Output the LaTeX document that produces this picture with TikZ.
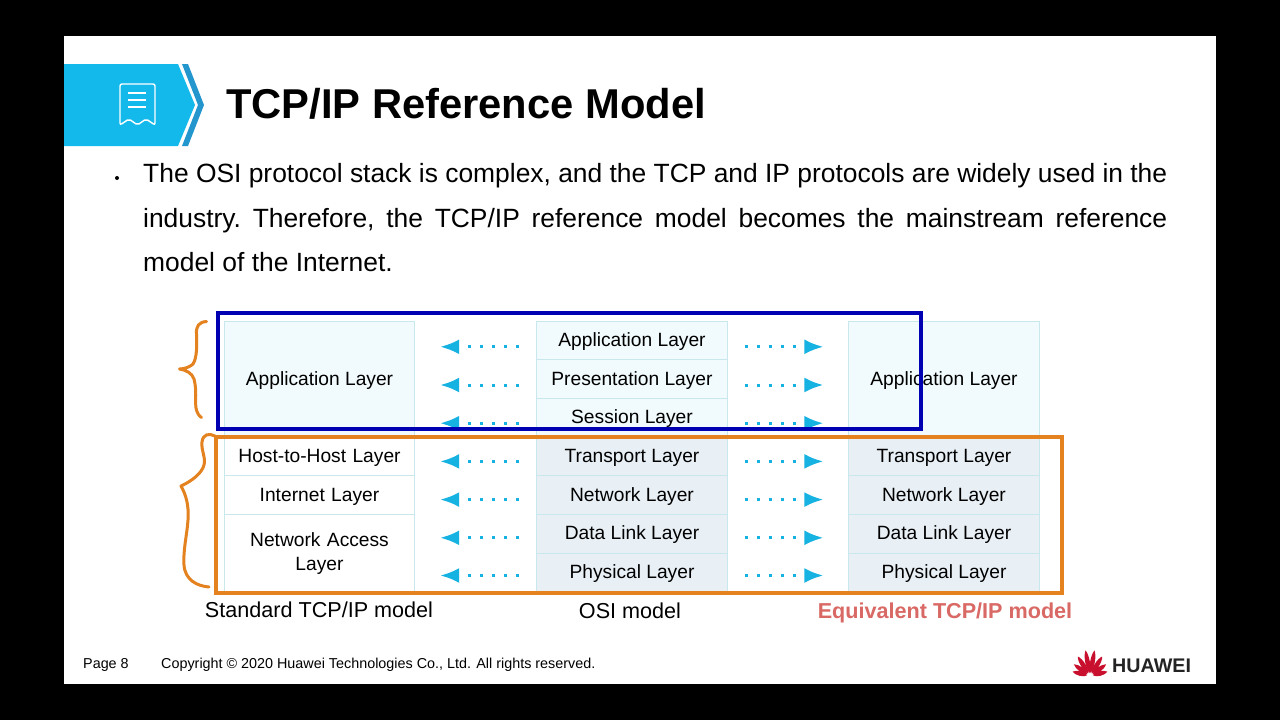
\documentclass[tikz,border=0pt]{standalone}
\usepackage{xcolor}
\usepackage{fontspec}
\setmainfont{Liberation Sans}
\usepackage{tikz}
\usetikzlibrary{arrows.meta,positioning,calc}
\definecolor{bannerblue}{RGB}{20,185,235}
\definecolor{chevblue}{RGB}{35,150,205}
\definecolor{cellline}{RGB}{200,232,238}
\definecolor{celltop}{RGB}{241,250,252}
\definecolor{cellgrey}{RGB}{232,240,246}
\definecolor{arrowblue}{RGB}{22,178,226}
\definecolor{markblue}{RGB}{0,0,178}
\definecolor{markorange}{RGB}{227,130,30}
\definecolor{eqred}{RGB}{217,105,100}
\definecolor{logored}{RGB}{200,16,46}
\newcommand{\fsize}[2]{\fontsize{#1}{#2}\selectfont}

\begin{document}
\begin{tikzpicture}[x=1pt, y=-1pt, node distance=38.7pt,
        cell/.style={rectangle, draw=cellline, line width=0.8pt, inner sep=0pt, text centered, minimum width=190.5pt, minimum height=38.7pt, text height=17pt, text depth=5pt, font=\fsize{19.2}{23.5}},
        topcell/.style={cell, fill=celltop},
        lowcell/.style={cell, fill=cellgrey},
        plaincell/.style={cell, fill=white, text width=170pt},
        capt/.style={inner sep=0pt, font=\fsize{21.6}{26}},
        larrow/.style={-{Latex[length=19pt,width=15pt]}, arrowblue, line width=3pt, dash pattern=on 3pt off 9pt, shorten <=17pt, shorten >=25pt},
        markbox/.style={line width=4.5pt},
        scribble/.style={markorange, line width=3pt, line cap=round, line join=round}
    ]
        % slide
        \fill[black] (0,0) rectangle (1280,720);
        \fill[white] (64,36) rectangle (1216,684);
        \useasboundingbox (0,0) rectangle (1280,720);

        % title banner
        \fill[bannerblue] (64,64) -- (178,64) -- (195,105) -- (178,146) -- (64,146) -- cycle;
        \fill[chevblue] (182,64) -- (188,64) -- (204,105) -- (188,146) -- (182,146) -- (198,105) -- cycle;
        \draw[white, line width=1.4pt, rounded corners=2pt] (120,125) -- (120,84) -- (155,84) -- (155,125) -- (146,119) -- (137.5,125) -- (129,119) -- cycle;
        \draw[white, line width=1.4pt] (128,93) -- (146,93);
        \draw[white, line width=1.4pt] (128,100) -- (146,100);
        \draw[white, line width=1.4pt] (128,107) -- (146,107);
        \node[anchor=base west, inner sep=0pt, font=\bfseries\fsize{41.7}{48}] (title) at (226,118) {TCP/IP Reference Model};

        % bullet text
        \fill[black] (117,178) circle (2pt);
        \node[anchor=north west, inner sep=0pt, text width=1024pt, align=justify, font=\fsize{26.4}{44.5}] (body) at (143,163.3) {\frenchspacing\spaceskip=.278em plus .6em minus .16em The OSI protocol stack is complex, and the TCP and IP protocols are widely used in the\linebreak industry. Therefore, the TCP/IP reference model becomes the mainstream reference model of the Internet.};

        % OSI column
        \node[topcell] (app) at (632,340.3) {Application Layer};
        \node[topcell, below of=app] (pres) {Presentation Layer};
        \node[topcell, below of=pres] (sess) {Session Layer};
        \node[lowcell, below of=sess] (trans) {Transport Layer};
        \node[lowcell, below of=trans] (net) {Network Layer};
        \node[lowcell, below of=net] (link) {Data Link Layer};
        \node[lowcell, below of=link] (phys) {Physical Layer};

        % standard column
        \node[topcell, minimum height=116pt] (stdapp) at (319.5,379) {Application Layer};
        \node[plaincell] (stdhost) at (319.5,456.4) {Host-to-Host Layer};
        \node[plaincell, below of=stdhost] (stdinet) {Internet Layer};
        \node[plaincell, minimum height=77.4pt, text height=, text depth=] (stdacc) at (319.5,553.4) {Network Access\\Layer};

        % equivalent column
        \node[topcell, minimum height=116pt] (eqapp) at (944,379) {Application Layer};
        \node[lowcell] (eqtrans) at (944,456.4) {Transport Layer};
        \node[lowcell, below of=eqtrans] (eqnet) {Network Layer};
        \node[lowcell, below of=eqnet] (eqlink) {Data Link Layer};
        \node[lowcell, below of=eqlink] (eqphys) {Physical Layer};

        % arrows to the left
        \draw[larrow] ([yshift=-6.5pt]app.west) -- ([yshift=-6.5pt]app.west -| stdapp.east);
        \draw[larrow] ([yshift=-6pt]pres.west) -- ([yshift=-6pt]pres.west -| stdapp.east);
        \draw[larrow] ([yshift=-5.5pt]sess.west) -- ([yshift=-5.5pt]sess.west -| stdapp.east);
        \draw[larrow] ([yshift=-5pt]trans.west) -- ([yshift=-5pt]trans.west -| stdapp.east);
        \draw[larrow] ([yshift=-4.5pt]net.west) -- ([yshift=-4.5pt]net.west -| stdapp.east);
        \draw[larrow] ([yshift=-4pt]link.west) -- ([yshift=-4pt]link.west -| stdapp.east);
        \draw[larrow] ([yshift=-3pt]phys.west) -- ([yshift=-3pt]phys.west -| stdapp.east);

        % arrows to the right
        \draw[larrow] ([yshift=-6.5pt]app.east) -- ([yshift=-6.5pt]app.east -| eqapp.west);
        \draw[larrow] ([yshift=-6pt]pres.east) -- ([yshift=-6pt]pres.east -| eqapp.west);
        \draw[larrow] ([yshift=-5.5pt]sess.east) -- ([yshift=-5.5pt]sess.east -| eqapp.west);
        \draw[larrow] ([yshift=-5pt]trans.east) -- ([yshift=-5pt]trans.east -| eqapp.west);
        \draw[larrow] ([yshift=-4.5pt]net.east) -- ([yshift=-4.5pt]net.east -| eqapp.west);
        \draw[larrow] ([yshift=-4pt]link.east) -- ([yshift=-4pt]link.east -| eqapp.west);
        \draw[larrow] ([yshift=-3pt]phys.east) -- ([yshift=-3pt]phys.east -| eqapp.west);

        % captions
        \node[capt] (stdcap) at (319,610) {Standard TCP/IP model};
        \node[capt] (osicap) at (630,611) {OSI model};
        \node[capt, text=eqred, font=\bfseries\fsize{21.6}{26}] (eqcap) at (945,613) {Equivalent TCP/IP model};

        % hand drawn marks
        \draw[markbox, markblue] (218,313) rectangle (921,429);
        \draw[markbox, markorange] (216,437) rectangle (1062,593);
        \draw[scribble] (206.5,321.5) .. controls (199,322) and (196,326) .. (196.5,334) .. controls (197,345) and (197,358) .. (193,364) .. controls (190,367) and (184,369) .. (179.5,369) .. controls (186,370) and (192,373) .. (194,379) .. controls (197,390) and (195,402) .. (196,408) .. controls (197,413) and (199,416) .. (201.5,417.5);
        \draw[scribble] (215,436) .. controls (209,433) and (203,434) .. (202,442) .. controls (201,450) and (206,458) .. (204,465) .. controls (202,473) and (192,481) .. (181,486) .. controls (186,495) and (189,505) .. (188,520) .. controls (187,535) and (183,550) .. (184,565) .. controls (185,580) and (197,586) .. (209,587);

        % footer
        \node[anchor=base west, inner sep=0pt, font=\fsize{14.36}{17}] (page) at (83,668) {Page 8};
        \node[anchor=base west, inner sep=0pt, font=\fsize{14.36}{17}] (copy) at (161,668) {Copyright © 2020 Huawei Technologies Co., Ltd. All rights reserved.};
        \foreach \ang/\len in {14/18,36/20,58/23,80/26,100/26,122/23,144/20,166/18} {
            \fill[logored, shift={(1090,676)}, rotate=\ang] (3,0) .. controls ({0.3*\len},3) and ({0.8*\len},3.2) .. (\len,0) .. controls ({0.8*\len},-3.2) and ({0.3*\len},-3) .. (3,0);
        }
        \node[anchor=base west, inner sep=0pt, font=\bfseries\fsize{19.7}{22}, text={rgb,255:red,35;green,35;blue,35}] (brand) at (1112,672.5) {HUAWEI};
    \end{tikzpicture}
\end{document}
